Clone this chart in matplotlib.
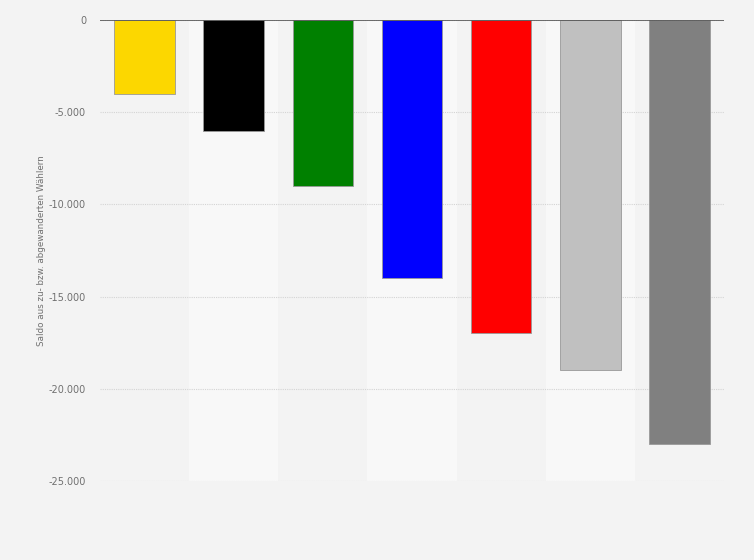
import matplotlib
matplotlib.use("Agg")
import matplotlib.pyplot as plt

# Werte
parteien = ["A", "B", "C", "D", "E", "F", "G"]
saldo = [-4000, -6000, -9000, -14000, -17000, -19000, -23000]
farben = ["#fcd700", "#000000", "#008000", "#0000ff", "#ff0000", "#c0c0c0", "#808080"]
yticks = [0, -5000, -10000, -15000, -20000, -25000]
ytick_labels = ["0", "-5.000", "-10.000", "-15.000", "-20.000", "-25.000"]

fig = plt.figure(figsize=(7.54, 5.6), dpi=100)
fig.patch.set_facecolor("#f3f3f3")
ax = fig.add_axes([100 / 754, 1 - 481 / 560, 624 / 754, 461 / 560])
ax.set_facecolor("#f3f3f3")

# abwechselnde Hintergrundstreifen
for i in range(len(parteien)):
    if i % 2 == 1:
        ax.axvspan(i - 0.5, i + 0.5, color="#f8f8f8", zorder=0, lw=0)

x = list(range(len(parteien)))
ax.bar(x, saldo, width=0.68, color=farben, edgecolor="#999999", linewidth=0.6, zorder=3)

ax.set_xlim(-0.5, len(parteien) - 0.5)
ax.set_ylim(-25000, 0)
ax.set_yticks(yticks)
ax.set_yticklabels(ytick_labels, color="#707070", fontsize=7)
ax.set_xticks([])
ax.tick_params(axis="y", length=0, pad=10)
ax.yaxis.grid(True, linestyle=(0, (1, 1)), color="#d4d4d4", linewidth=0.8, zorder=1)

for s in ["left", "right", "bottom", "top"]:
    ax.spines[s].set_visible(False)
ax.axhline(0, color="#555555", linewidth=1.2, zorder=4)

ax.set_ylabel("Saldo aus zu- bzw. abgewanderten Wählern", fontsize=6.3, color="#707070")
ax.yaxis.set_label_coords(-0.086, 0.5)

fig.savefig("out.png", dpi=100, facecolor=fig.get_facecolor())
